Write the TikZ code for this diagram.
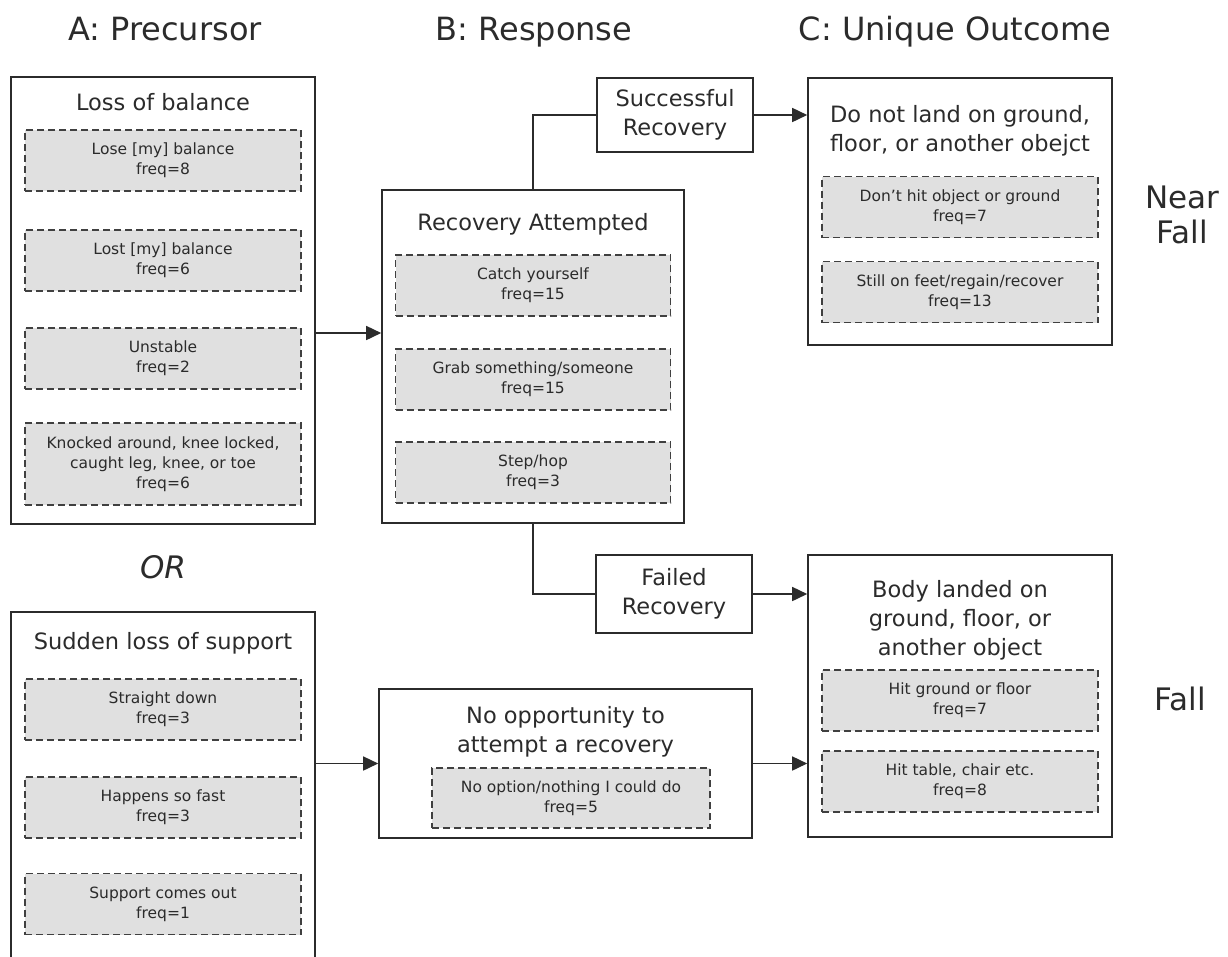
\documentclass[tikz,border=0pt]{standalone}
\usepackage{fontspec}
\setmainfont{DejaVu Sans}
\usetikzlibrary{arrows.meta}

\definecolor{inkgray}{HTML}{2B2B2B}
\definecolor{boxfill}{HTML}{E0E0E0}

\tikzset{
	bigbox/.style={draw=inkgray, line width=1.6pt, minimum width=304pt, inner sep=0pt},
	freqbox/.style={draw=inkgray!90, fill=boxfill, line width=1.1pt, dash pattern=on 7pt off 4pt,
		minimum width=276pt, minimum height=61pt, align=center, inner sep=0pt,
		font=\fontsize{15.5}{20}\selectfont},
	boxtitle/.style={font=\fontsize{22.5}{29}\selectfont, align=center, inner sep=0pt},
	colhead/.style={font=\fontsize{32}{38}\selectfont, inner sep=0pt, anchor=base},
	sidelabel/.style={font=\fontsize{31}{35}\selectfont, align=center, inner sep=0pt},
	link/.style={draw=inkgray, line width=1.6pt},
	flow/.style={link, -{Triangle[length=15pt,width=14pt]}}
}

\begin{document}
\begin{tikzpicture}[x=1pt, y=-1pt, text=inkgray]
			\clip[use as bounding box] (0,0) rectangle (1228,956);

			% column headings
			\node[colhead] (headA) at (165,40) {A: Precursor};
			\node[colhead] (headB) at (534,40) {B: Response};
			\node[colhead] (headC) at (955,40) {C: Unique Outcome};

			% A: precursor
			\node[bigbox, minimum height=447pt] (A1) at (163,300.5) {};
			\node[boxtitle, anchor=base] (A1t) at (163,110) {Loss of balance};
			\foreach \y/\h/\txt [count=\k] in {160.5/61/{Lose [my] balance\\freq=8},
					260.5/61/{Lost [my] balance\\freq=6},
					358.5/61/{Unstable\\freq=2},
					464/82/{Knocked around, knee locked,\\caught leg, knee, or toe\\freq=6}}
				\node[freqbox, minimum height=\h pt] (lob\k) at (163,\y) {\txt};

			\node[sidelabel, font=\fontsize{31}{35}\selectfont\itshape, anchor=base] (or) at (163,578) {OR};

			\node[bigbox, minimum height=363pt] (A2) at (163,793.5) {};
			\node[boxtitle, anchor=base] (A2t) at (163,649) {Sudden loss of support};
			\foreach \y/\txt [count=\k] in {709.5/{Straight down\\freq=3},
					807.5/{Happens so fast\\freq=3},
					904/{Support comes out\\freq=1}}
				\node[freqbox] (sls\k) at (163,\y) {\txt};

			% B: response
			\node[bigbox, minimum width=302pt, minimum height=333pt] (B1) at (533,356.5) {};
			\node[boxtitle, anchor=base] (B1t) at (533,230) {Recovery Attempted};
			\foreach \y/\txt [count=\k] in {285.5/{Catch yourself\\freq=15},
					379.5/{Grab something/someone\\freq=15},
					472.5/{Step/hop\\freq=3}}
				\node[freqbox, minimum width=275pt] (ra\k) at (533,\y) {\txt};

			\node[boxtitle, draw=inkgray, line width=1.6pt, minimum width=156pt, minimum height=74pt] (succ) at (675,115) {Successful\\Recovery};
			\node[boxtitle, draw=inkgray, line width=1.6pt, minimum width=156pt, minimum height=78pt] (fail) at (674,594) {Failed\\Recovery};

			\node[bigbox, minimum width=373pt, minimum height=149pt] (B2) at (565.5,763.5) {};
			\node[boxtitle, anchor=north] (B2t) at (565.5,706.6) {No opportunity to\\attempt a recovery};
			\node[freqbox, minimum width=278pt, minimum height=60pt] (noopt) at (571,798) {No option/nothing I could do\\freq=5};

			% C: unique outcome
			\node[bigbox, minimum height=267pt] (C1) at (960,211.5) {};
			\node[boxtitle, anchor=north] (C1t) at (960,105) {Do not land on ground,\\floor, or another obejct};
			\foreach \y/\txt [count=\k] in {207/{Don’t hit object or ground\\freq=7},
					292/{Still on feet/regain/recover\\freq=13}}
				\node[freqbox] (nf\k) at (960,\y) {\txt};

			\node[bigbox, minimum height=282pt] (C2) at (960,696) {};
			\node[boxtitle, anchor=north] (C2t) at (960,580) {Body landed on\\ground, floor, or\\another object};
			\foreach \y/\txt [count=\k] in {700.5/{Hit ground or floor\\freq=7},
					781.5/{Hit table, chair etc.\\freq=8}}
				\node[freqbox] (fl\k) at (960,\y) {\txt};

			\node[sidelabel, anchor=north] (nearfall) at (1182,185.4) {Near\\Fall};
			\node[sidelabel, anchor=base] (fall) at (1180,710) {Fall};

			% connectors
			\draw[flow] ([yshift=-32.5pt]A1.east) -- ([yshift=-32.5pt]A1.east -| B1.west);
			\draw[link] (B1.north) |- (succ.west);
			\draw[flow] (succ.east) -- (succ.east -| C1.west);
			\draw[link] (B1.south) |- (fail.west);
			\draw[flow] (fail.east) -- (fail.east -| C2.west);
			\draw[flow] (A2.east |- B2.west) -- (B2.west);
			\draw[flow] (B2.east) -- (B2.east -| C2.west);
		\end{tikzpicture}
\end{document}
